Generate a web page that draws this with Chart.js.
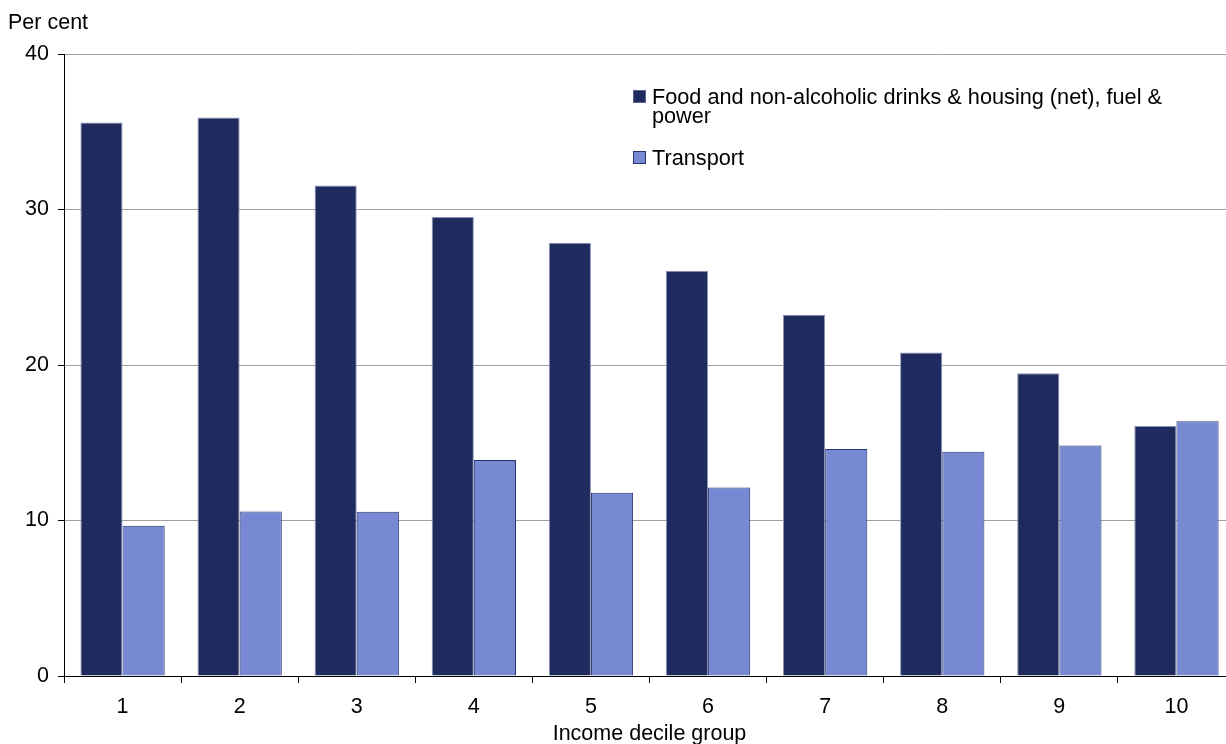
<!DOCTYPE html>
<html>
<head>
<meta charset="utf-8">
<script src="https://cdn.jsdelivr.net/npm/chart.js@4/dist/chart.umd.min.js"></script>
<style>
  html, body { margin: 0; padding: 0; overflow: hidden; background: #ffffff; }
  #wrap { position: relative; width: 1236px; height: 744px; }
</style>
</head>
<body>
<div id="wrap"><canvas id="chart" width="1236" height="744"></canvas></div>
<script>
// Share of expenditure by income decile group (per cent)
const deciles = ['1', '2', '3', '4', '5', '6', '7', '8', '9', '10'];
const essentials = [35.59, 35.91, 31.55, 29.51, 27.86, 26.06, 23.23, 20.80, 19.47, 16.08];
const transport = [9.66, 10.58, 10.56, 13.89, 11.78, 12.13, 14.60, 14.42, 14.83, 16.38];
const seriesNames = ['Food and non-alcoholic drinks & housing (net), fuel & power', 'Transport'];
const yTickValues = [0, 10, 20, 30, 40];
const yAxisLabel = 'Per cent';
const xAxisLabel = 'Income decile group';

const FONT = '"Liberation Sans", Arial, Helvetica, sans-serif';
const FONT_SIZE = 21.5;
const LEGEND_SIZE = 21.7;

// Wrap a label into lines no wider than maxWidth
function wrapText(ctx, text, maxWidth) {
  const words = text.split(' ');
  const lines = [];
  let line = '';
  words.forEach(w => {
    const test = line ? line + ' ' + w : w;
    if (line && ctx.measureText(test).width > maxWidth) {
      lines.push(line);
      line = w;
    } else {
      line = test;
    }
  });
  if (line) lines.push(line);
  return lines;
}

// Legend drawn inside the plot area, with wrapped labels
const boxLegend = {
  id: 'boxLegend',
  afterDatasetsDraw(chart, args, o) {
    const ctx = chart.ctx;
    ctx.save();
    ctx.font = `${o.size}px ${FONT}`;
    ctx.textBaseline = 'alphabetic';
    ctx.textAlign = 'left';
    let top = o.y;
    chart.data.datasets.forEach(ds => {
      const lines = wrapText(ctx, ds.label, o.maxWidth);
      ctx.fillStyle = ds.backgroundColor;
      ctx.fillRect(o.x, top, o.box, o.box);
      ctx.strokeStyle = ds.legendBorder;
      ctx.lineWidth = 1;
      ctx.strokeRect(o.x + 0.5, top + 0.5, o.box - 1, o.box - 1);
      ctx.fillStyle = '#000000';
      lines.forEach((ln, i) => {
        ctx.fillText(ln, o.x + o.box + o.gap, top + o.baseline + i * o.lineHeight);
      });
      top += lines.length * o.lineHeight + o.itemGap;
    });
    ctx.restore();
  }
};

// Unit label above the value axis
const unitLabel = {
  id: 'unitLabel',
  afterDraw(chart, args, o) {
    const ctx = chart.ctx;
    ctx.save();
    ctx.font = `${o.size}px ${FONT}`;
    ctx.fillStyle = '#000000';
    ctx.textAlign = 'left';
    ctx.textBaseline = 'alphabetic';
    ctx.fillText(o.text, o.x, o.y);
    ctx.restore();
  }
};

new Chart(document.getElementById('chart'), {
  type: 'bar',
  data: {
    labels: deciles,
    datasets: [
      {
        label: seriesNames[0],
        data: essentials,
        backgroundColor: '#1F2B5F',
        borderColor: '#8C94B6',
        legendBorder: '#5A6390',
        borderWidth: 1,
        categoryPercentage: 0.72,
        barPercentage: 1.0
      },
      {
        label: seriesNames[1],
        data: transport,
        backgroundColor: '#7789D3',
        borderColor: '#27336E',
        legendBorder: '#27336E',
        borderWidth: 1,
        categoryPercentage: 0.72,
        barPercentage: 1.0
      }
    ]
  },
  options: {
    responsive: false,
    animation: false,
    layout: { padding: { left: 0, right: 1, top: 54, bottom: 0 } },
    plugins: {
      legend: { display: false },
      tooltip: { enabled: false },
      boxLegend: {
        x: 633, y: 90, box: 13, gap: 6, size: LEGEND_SIZE,
        baseline: 14, lineHeight: 19, itemGap: 23, maxWidth: 540
      },
      unitLabel: { text: yAxisLabel, x: 8, y: 29, size: FONT_SIZE }
    },
    scales: {
      x: {
        offset: true,
        afterFit(scale) { scale.height = 68; },
        grid: {
          offset: true,
          drawOnChartArea: false,
          drawTicks: true,
          tickLength: 7,
          tickColor: '#000000',
          tickWidth: 1
        },
        border: { display: true, color: '#000000', width: 1 },
        ticks: {
          color: '#000000',
          font: { family: FONT, size: FONT_SIZE, lineHeight: 1.1 },
          padding: 12,
          maxRotation: 0
        },
        title: {
          display: true,
          text: xAxisLabel,
          color: '#000000',
          font: { family: FONT, size: FONT_SIZE, lineHeight: 0.95 },
          padding: { top: 0, bottom: 0 }
        }
      },
      y: {
        min: 0,
        max: 40,
        afterBuildTicks(scale) {
          scale.ticks = yTickValues.map(v => ({ value: v }));
        },
        afterFit(scale) { scale.width = 64; },
        grid: {
          color: ctx => (ctx.tick && ctx.tick.value === 0) ? 'rgba(0,0,0,0)' : '#A0A0A0',
          lineWidth: 1,
          tickLength: 6,
          tickColor: '#000000'
        },
        border: { display: true, color: '#000000', width: 1 },
        ticks: {
          color: '#000000',
          font: { family: FONT, size: FONT_SIZE },
          padding: 9
        }
      }
    }
  },
  plugins: [boxLegend, unitLabel]
});
</script>
</body>
</html>
